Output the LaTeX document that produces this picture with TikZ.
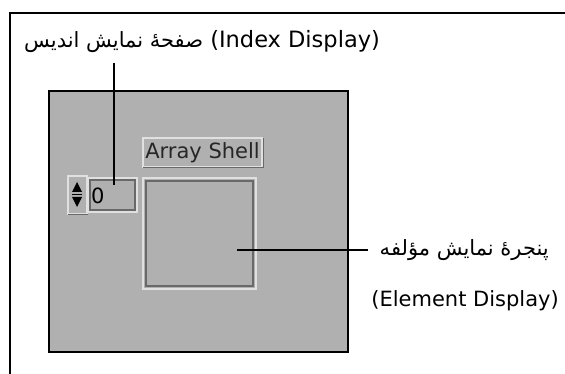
\documentclass[tikz,border=0pt]{standalone}
\usepackage{fontspec}
\setmainfont{DejaVu Sans}
\newfontfamily\arabicfont[Script=Arabic]{DejaVu Sans}
\TeXXeTstate=1
\definecolor{panelgray}{RGB}{176,176,176}
\definecolor{hilite}{RGB}{224,224,224}
\definecolor{darkedge}{RGB}{105,105,105}
\tikzset{
  lbl/.style={inner sep=0pt, font=\fontsize{21}{25}\selectfont},
  biglbl/.style={inner sep=0pt, font=\fontsize{22.5}{27}\selectfont},
  lead/.style={draw=black, line width=1.3pt},
  bevelout/.style={draw=hilite, line width=2pt},
  bevelin/.style={draw=darkedge, line width=1.4pt},
}
\begin{document}
\begin{tikzpicture}[x=1pt,y=-1pt]
\useasboundingbox (0,0) rectangle (565,374);
% outer frame
\draw[line width=2pt] (10,374) -- (10,13) -- (565,13);
% front panel
\draw[line width=1.5pt, fill=panelgray] (49,91) rectangle (348,352);
% array shell label
\draw[bevelout] (143,138) rectangle (262,167);
\draw[darkedge, line width=1pt] (143,168) -- (263,168) -- (263,138);
\node[lbl, text=black!85] (shell) at (202.5,152.5) {Array Shell};
% index display
\draw[bevelout] (68,176) rectangle (87,214);
\draw[darkedge, line width=1pt] (68,215) -- (88,215);
\fill (77,182) -- (82,192) -- (72,192) -- cycle;
\fill (77,207) -- (82,197) -- (72,197) -- cycle;
\draw[line width=0.8pt] (72,194.5) -- (82,194.5);
\draw[bevelout] (88,178) rectangle (137,212);
\draw[bevelin] (90,180) rectangle (135,210);
\node[lbl, anchor=west] (idxval) at (91,196) {0};
\coordinate (idxtip) at (114,185);
% element display
\draw[bevelout] (143,178) rectangle (256,289);
\draw[bevelin] (146,181) rectangle (253,286);
\coordinate (elemtip) at (237,250);
% labels
\node[biglbl, anchor=west] (idxlabel) at (24,42)
  {{\fontsize{21}{25}\arabicfont\beginR صفحهٔ نمایش اندیس\endR} (Index Display)};
\node[lbl, anchor=east] (elemfa) at (549,250)
  {\arabicfont\beginR پنجرهٔ نمایش مؤلفه\endR};
\node[lbl, anchor=east] (elemen) at (559,301) {(Element Display)};
% leader lines
\draw[lead] (idxtip |- 0,63) -- (idxtip);
\draw[lead] (elemtip) -- (elemfa.west -| 368,0);
\end{tikzpicture}
\end{document}
